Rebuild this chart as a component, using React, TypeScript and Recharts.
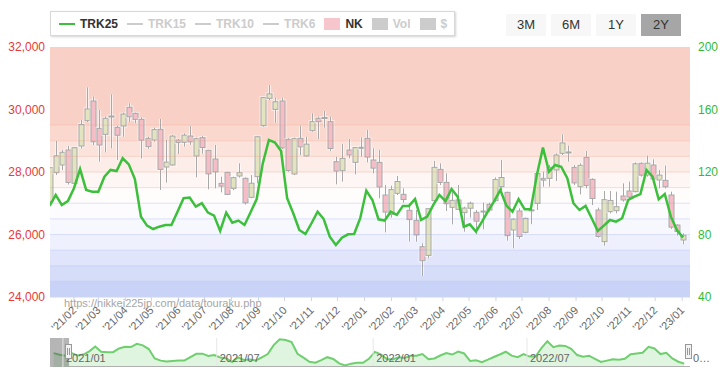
import React from 'react';
import {
  ComposedChart,
  Bar,
  Line,
  Area,
  XAxis,
  YAxis,
  ReferenceArea,
  ReferenceLine,
} from 'recharts';

const DAY = 86400000;
const BASE = Date.UTC(2021, 0, 1);
const dayOf = (y: number, m: number, d: number) => (Date.UTC(y, m - 1, d) - BASE) / DAY;

// weekly candles, weeks start on Monday 2021-01-04
const firstWeek = dayOf(2021, 1, 4);

const nkOpen = [
  27060, 27979, 28224, 28704, 27637, 28832, 29643, 30272, 29397, 29205, 29760, 29429, 29472, 30069, 29877, 29685, 29077, 29024, 29365, 28160, 28224, 29024, 28949, 29152, 28512, 29099, 28693,
  28416, 27637, 27989, 27477, 27872, 27797, 27189, 27851, 29483, 30357, 30005, 30272, 29045, 27936, 29077, 28512, 29323, 29717, 29740, 29611, 28331, 28043, 28704, 28309, 28760, 29077, 28384,
  28309, 27264, 26645, 27317, 27285, 26773, 26453, 25611, 25333, 27083, 28085, 27669, 26869, 26805, 26700, 26840, 26709, 26750, 26965, 27083, 27531, 27349, 26144, 26752, 26069, 26773, 26997,
  27797, 27797, 28064, 28597, 28620, 28149, 27531, 28469, 27765, 26784, 25771, 26731, 26763, 27232, 27392, 27371, 28277, 27904, 28224, 27744, 27733, 27264, 26304, 25824,
];
const nkHigh = [
  28140, 28992, 28704, 28832, 28800, 29664, 30709, 30411, 29984, 29770, 30485, 29480, 29900, 30197, 29900, 29750, 29130, 29420, 29696, 29024, 29184, 29056, 29237, 29472, 29100, 29150, 28710,
  28864, 27851, 28010, 27851, 28277, 27830, 27904, 29150, 30380, 30784, 30379, 30379, 29080, 29100, 29483, 29130, 29877, 29770, 29952, 29770, 28491, 28896, 29056, 28800, 29109, 29344, 28760,
  28704, 27584, 27563, 27872, 27477, 26997, 26784, 25717, 26837, 28352, 28277, 27957, 27424, 27584, 26890, 27050, 26784, 27019, 27019, 27829, 28384, 27370, 26517, 26837, 26539, 26890, 28064,
  28011, 28224, 28597, 29205, 28843, 28224, 28277, 28672, 27797, 26859, 27392, 27392, 27371, 27637, 27691, 28309, 28309, 28523, 28405, 28064, 28203, 27371, 26325, 26037,
];
const nkLow = [
  27000, 27904, 28064, 27600, 27580, 28750, 29600, 28860, 28331, 28629, 28757, 28384, 29131, 29600, 29557, 28437, 28740, 28970, 27424, 27659, 28200, 28576, 28811, 28870, 27829, 28590, 27445,
  27477, 27349, 27260, 27420, 27820, 26960, 27160, 27637, 29450, 30300, 29579, 28740, 28010, 27900, 28544, 28490, 29290, 29056, 29419, 28670, 27605, 27691, 28440, 27925, 28490, 28310, 27960,
  27157, 26069, 26539, 27264, 27019, 25771, 25771, 24672, 25237, 27050, 27584, 26752, 26325, 26784, 26090, 26539, 26006, 26165, 26730, 27050, 27424, 25803, 25557, 25856, 26037, 26330, 26784,
  27531, 27531, 27712, 28544, 28331, 27584, 27285, 27477, 26944, 25899, 25643, 26677, 26677, 27051, 27136, 27349, 27851, 27851, 27712, 27477, 27477, 26176, 25963, 25685,
];
const nkClose = [
  28139, 28519, 28631, 27663, 28779, 29520, 30018, 28966, 28864, 29717, 29792, 29176, 29854, 29768, 29683, 29020, 28812, 29357, 28084, 28317, 29149, 28941, 29180, 28964, 29066, 28783, 27940,
  28003, 27548, 27283, 27820, 27977, 27013, 27641, 29128, 30381, 30500, 30248, 28771, 28048, 29068, 28804, 28892, 29611, 29609, 29745, 28751, 28029, 28437, 28545, 28782, 28791, 28478, 28124,
  27522, 26717, 27439, 27696, 27122, 26476, 25985, 25162, 26827, 28149, 27665, 26985, 27093, 27105, 26847, 27003, 26427, 26739, 26781, 27761, 27824, 25963, 26491, 25935, 26517, 26788, 27950,
  27740, 28150, 28546, 28930, 28641, 27650, 28214, 27567, 27153, 25937, 27116, 27090, 26890, 27105, 27199, 28263, 27899, 28283, 27777, 27901, 27527, 26235, 26094, 25973,
];
const trk25 = [
  98.3, 105.3, 98.9, 101.4, 109.6, 121.9, 108.5, 107.4, 107.4, 117.0, 121.3, 120.6, 128.8, 124.9, 115.5, 91.4, 85.7, 83.5, 85.0, 86.1, 86.1, 94.6, 103.2, 103.6, 97.8, 100.0, 94.0,
  92.1, 82.3, 94.0, 87.6, 88.9, 86.1, 94.2, 102.7, 125.5, 140.5, 138.8, 133.4, 103.2, 93.6, 82.9, 80.3, 87.2, 94.6, 89.9, 78.6, 73.3, 78.0, 80.1, 80.3, 90.4, 108.1, 102.1,
  89.7, 88.9, 94.6, 92.5, 98.3, 98.3, 102.7, 89.3, 91.4, 98.9, 105.3, 101.4, 109.1, 104.2, 85.0, 86.5, 81.9, 88.2, 95.1, 101.4, 108.5, 98.5, 94.6, 102.7, 96.1, 96.1, 118.1,
  135.6, 120.2, 124.5, 123.4, 116.0, 100.0, 95.7, 98.3, 90.4, 82.3, 85.7, 89.3, 88.2, 90.4, 102.1, 104.2, 105.9, 121.3, 117.0, 102.5, 105.9, 91.4, 82.9, 78.0,
];

// navigator also shows the two weeks before the selected range
const navPreWeeks = ['2020-12-21', '2020-12-28'];
const navPreTrk = [105, 101];

const monthLabels = [
  "'21/02", "'21/03", "'21/04", "'21/05", "'21/06", "'21/07", "'21/08", "'21/09", "'21/10", "'21/11", "'21/12",
  "'22/01", "'22/02", "'22/03", "'22/04", "'22/05", "'22/06", "'22/07", "'22/08", "'22/09", "'22/10", "'22/11", "'22/12",
  "'23/01",
];
const navLabels = ['2021/01', '2021/07', '2022/01', '2022/07'];

const nkTicks = [24000, 26000, 28000, 30000, 32000];
const trkTicks = [40, 80, 120, 160, 200];

// background zones of the ratio (TRK axis)
const zoneEdges = [200, 150, 140, 130, 120, 110, 100, 90, 80, 70, 60, 50, 40];
const zoneFills = [
  '#f9d0c5', '#fad8ce', '#fbe2da', '#fdede8', '#fef6f4', '#fffcfc',
  '#fcfcff', '#f7f8fe', '#eef1fd', '#e0e5fb', '#d6ddf9', '#c9d2f7',
];

const rows = nkClose.map((c, i) => ({
  t: firstWeek + i * 7,
  range: [nkLow[i], nkHigh[i]],
  open: nkOpen[i],
  high: nkHigh[i],
  low: nkLow[i],
  close: c,
  trk: trk25[i],
}));

const navRows = [
  ...navPreWeeks.map((d, i) => {
    const [y, m, dd] = d.split('-').map(Number);
    return { t: dayOf(y, m, dd), trk: navPreTrk[i] };
  }),
  ...rows.map((r) => ({ t: r.t, trk: r.trk })),
];

const monthDay = (label: string) => {
  const [yy, mm] = label.slice(1).split('/').map(Number);
  return dayOf(2000 + yy, mm, 1);
};
const tickDays = monthLabels.map(monthDay);
const labelByDay: Record<number, string> = {};
monthLabels.forEach((l, i) => (labelByDay[tickDays[i]] = l));

const navDays = navLabels.map((l) => {
  const [y, m] = l.split('/').map(Number);
  return dayOf(y, m, 1);
});

const FONT = "'Liberation Sans', Arial, Helvetica, sans-serif";
const X_DOMAIN: [number, number] = [3.45, 739];
const NAV_DOMAIN: [number, number] = [-15.2, 737.8];

const Candle = (props: any) => {
  const { x, y, width, height, payload } = props;
  if (x == null || y == null || !payload) return null;
  const top = Math.min(y, y + height);
  const h = Math.abs(height);
  const { open, close, high, low } = payload;
  const span = high - low || 1;
  const py = (v: number) => top + ((high - v) / span) * h;
  const cx = Math.round(x + width / 2) + 0.5;
  const up = close >= open;
  const bTop = py(Math.max(open, close));
  const bh = Math.max(py(Math.min(open, close)) - bTop, 1);
  const bx = cx - 2.5;
  return (
    <g>
      <line x1={cx} x2={cx} y1={top} y2={top + h} stroke="rgba(255,255,255,0.6)" strokeWidth={3} />
      <rect x={bx - 1.5} y={bTop - 1.5} width={8} height={bh + 3} fill="rgba(255,255,255,0.55)" />
      <line x1={cx} x2={cx} y1={top} y2={top + h} stroke="#a8a8a8" strokeWidth={1} />
      <rect x={bx} y={bTop} width={5} height={bh} fill={up ? '#e2e3bf' : '#f5bec7'} stroke="#a8a8a8" strokeWidth={1} />
    </g>
  );
};

const XTick = (props: any) => {
  const { x, y, payload } = props;
  const tx = x + 3;
  const ty = y + 8;
  return (
    <text x={tx} y={ty} transform={`rotate(-45 ${tx} ${ty})`} textAnchor="end" fill="#666" fontSize={11} fontFamily={FONT}>
      {labelByDay[payload.value]}
    </text>
  );
};

const legendItems = [
  { name: 'TRK25', kind: 'line', color: '#3cc03c', on: true },
  { name: 'TRK15', kind: 'line', color: '#cccccc', on: false },
  { name: 'TRK10', kind: 'line', color: '#cccccc', on: false },
  { name: 'TRK6', kind: 'line', color: '#cccccc', on: false },
  { name: 'NK', kind: 'box', color: '#f7c5cc', on: true },
  { name: 'Vol', kind: 'box', color: '#cccccc', on: false },
  { name: '$', kind: 'box', color: '#cccccc', on: false },
];

const ranges = ['3M', '6M', '1Y', '2Y'];

export default function App() {
  return (
    <div style={{ position: 'absolute', left: 0, top: 0, width: 727, height: 382, background: '#fff', fontFamily: FONT }}>
      <div style={{ position: 'absolute', left: 0, top: 0 }}>
        <ComposedChart width={727} height={340} data={rows} margin={{ top: 47, right: 0, bottom: 0, left: 0 }}>
          {zoneFills.map((f, i) => (
            <ReferenceArea
              key={'z' + i}
              yAxisId="trk"
              y1={zoneEdges[i + 1]}
              y2={zoneEdges[i]}
              fill={f}
              fillOpacity={1}
              stroke="none"
            />
          ))}
          {zoneEdges.slice(1, -1).map((v) => (
            <ReferenceLine
              key={'e' + v}
              yAxisId="trk"
              y={v}
              stroke={v > 100 ? 'rgba(235,150,130,0.3)' : 'rgba(130,150,235,0.25)'}
              strokeWidth={1}
            />
          ))}
          <XAxis
            dataKey="t"
            type="number"
            domain={X_DOMAIN}
            allowDataOverflow
            ticks={tickDays}
            interval={0}
            height={43}
            tick={<XTick />}
            tickSize={4}
            tickMargin={2}
            axisLine={{ stroke: '#ccd6eb' }}
            tickLine={{ stroke: '#ccd6eb' }}
          />
          <YAxis
            yAxisId="nk"
            domain={[24000, 32000]}
            ticks={nkTicks}
            allowDataOverflow
            width={50}
            axisLine={false}
            tickLine={false}
            tickSize={0}
            tickMargin={5}
            tickFormatter={(v: number) => v.toLocaleString('en-US')}
            tick={{ fill: '#e63a3a', fontSize: 12 }}
          />
          <YAxis
            yAxisId="trk"
            orientation="right"
            domain={[40, 200]}
            ticks={trkTicks}
            width={37}
            axisLine={false}
            tickLine={false}
            tickSize={0}
            tickMargin={8}
            tick={{ fill: '#33bb33', fontSize: 12, textAnchor: 'start' }}
          />
          <Bar yAxisId="nk" dataKey="range" barSize={5} shape={<Candle />} isAnimationActive={false} />
          <Line
            yAxisId="trk"
            type="linear"
            dataKey="trk"
            stroke="#3cc03c"
            strokeWidth={2.5}
            dot={false}
            activeDot={false}
            isAnimationActive={false}
          />
        </ComposedChart>
      </div>

      <div style={{ position: 'absolute', left: 64, top: 297, fontSize: 11, color: '#a6a6a6', whiteSpace: 'nowrap' }}>
        https://nikkei225jp.com/data/touraku.php
      </div>

      {/* navigator */}
      <div style={{ position: 'absolute', left: 0, top: 330 }}>
        <ComposedChart width={727} height={45} data={navRows} margin={{ top: 8, right: 37, bottom: 8, left: 50 }}>
          <XAxis dataKey="t" type="number" domain={NAV_DOMAIN} allowDataOverflow hide />
          <YAxis domain={[69.4, 143.8]} allowDataOverflow hide />
          {navDays.map((d, i) => (
            <ReferenceLine
              key={'n' + i}
              x={d}
              stroke="#e6e6e6"
              label={(p: any) => (
                <text x={p.viewBox.x + 3} y={p.viewBox.y + p.viewBox.height - 5} fill="#666" fontSize={11} fontFamily={FONT}>
                  {navLabels[i]}
                </text>
              )}
            />
          ))}
          <Area
            type="linear"
            dataKey="trk"
            stroke="#6fcf6f"
            strokeWidth={2}
            fill="#c9eec9"
            fillOpacity={0.6}
            dot={false}
            activeDot={false}
            isAnimationActive={false}
          />
          <ReferenceArea x1={NAV_DOMAIN[0]} x2={7.2} fill="#5a5a5a" fillOpacity={0.45} stroke="none" />
        </ComposedChart>
      </div>
      <div style={{ position: 'absolute', left: 69, top: 366, width: 621, height: 1, background: '#b0b0b0' }} />
      {[69, 689].map((hx) => (
        <div
          key={hx}
          style={{
            position: 'absolute',
            left: hx - 4,
            top: 344,
            width: 7,
            height: 15,
            background: '#f2f2f2',
            border: '1px solid #999',
            boxSizing: 'border-box',
          }}
        >
          <div style={{ position: 'absolute', left: 1, top: 3, width: 1, height: 7, background: '#999' }} />
          <div style={{ position: 'absolute', left: 3, top: 3, width: 1, height: 7, background: '#999' }} />
        </div>
      ))}
      <div style={{ position: 'absolute', left: 693, top: 352, fontSize: 11, color: '#666' }}>0…</div>

      {/* legend */}
      <div
        style={{
          position: 'absolute',
          left: 50,
          top: 11,
          width: 405,
          height: 25,
          boxSizing: 'border-box',
          background: '#fff',
          border: '1px solid #d8d8d8',
          boxShadow: '1px 1px 2px rgba(0,0,0,0.18)',
          display: 'flex',
          alignItems: 'center',
          paddingLeft: 8,
          fontSize: 12,
          fontWeight: 'bold',
        }}
      >
        {legendItems.map((it) => (
          <div key={it.name} style={{ display: 'flex', alignItems: 'center', marginRight: 9 }}>
            {it.kind === 'line' ? (
              <div style={{ width: 16, height: 2, background: it.color, marginRight: 5 }} />
            ) : (
              <div style={{ width: 16, height: 12, background: it.color, marginRight: 5 }} />
            )}
            <span style={{ color: it.on ? '#333' : '#cccccc' }}>{it.name}</span>
          </div>
        ))}
      </div>

      {/* range buttons */}
      {ranges.map((r, i) => (
        <div
          key={r}
          style={{
            position: 'absolute',
            left: 506 + i * 45,
            top: 14,
            width: 40,
            height: 22,
            lineHeight: '22px',
            textAlign: 'center',
            fontSize: 13,
            color: '#333',
            background: r === '2Y' ? '#a6a6a6' : '#f7f7f7',
          }}
        >
          {r}
        </div>
      ))}
    </div>
  );
}
